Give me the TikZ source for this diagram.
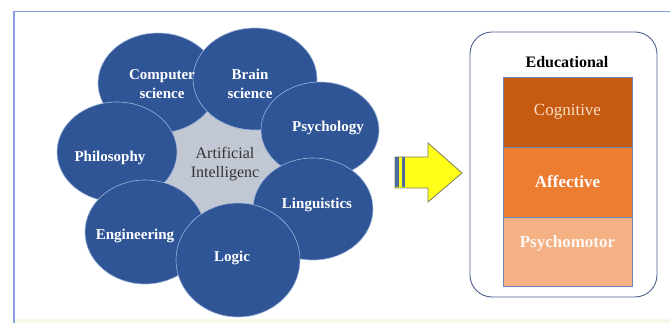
\documentclass[tikz,border=0pt]{standalone}
\usepackage{fontspec}
\setmainfont{Liberation Serif}
\usetikzlibrary{shapes.geometric}
\definecolor{blob}{HTML}{2F5597}
\definecolor{blobedge}{HTML}{9DB3DA}
\definecolor{aigray}{HTML}{C1C8D3}
\definecolor{framecol}{HTML}{8C9FE4}
\definecolor{boxedge}{HTML}{4E5F8F}
\definecolor{cogfill}{HTML}{C55A11}
\definecolor{cogtext}{HTML}{FBDDC2}
\definecolor{afffill}{HTML}{ED7D31}
\definecolor{psyfill}{HTML}{F4B183}
\definecolor{stackedge}{HTML}{6A86B8}
\definecolor{arrowfill}{HTML}{FFFF1A}
\definecolor{arrowedge}{HTML}{7D7D5A}
\definecolor{stripe}{HTML}{4F6C9E}
\definecolor{bottomtint}{HTML}{F4FAE6}
\tikzset{
  blobnode/.style={ellipse, fill=blob, draw=blobedge, line width=0.6pt, inner sep=0pt},
  bloblabel/.style={text=white, font=\fontsize{15}{19}\selectfont\bfseries, align=center, inner sep=0pt},
  stackbox/.style={rectangle, draw=stackedge, line width=0.8pt, minimum width=129pt, inner sep=0pt},
  stacklabel/.style={font=\fontsize{17}{20}\selectfont, inner sep=0pt}
}
\begin{document}
\begin{tikzpicture}[x=1pt,y=-1pt]
\useasboundingbox (0,0) rectangle (670,323);
\fill[white] (0,0) rectangle (670,323);
% outer frame
\fill[bottomtint] (14,319) rectangle (670,323);
\draw[framecol, line width=1.5pt] (14,323) -- (14,11.5) -- (670,11.5);
% central grey area with text
\node[circle, fill=aigray, minimum size=150pt, inner sep=0pt] (ai) at (228,165) {};
% ellipses
\node[blobnode, minimum width=120pt, minimum height=100pt] (comp) at (158,83) {};
\node[blobnode, minimum width=124pt, minimum height=102pt] (brain) at (255,79) {};
\node[blobnode, minimum width=118pt, minimum height=96pt] (psych) at (320,130) {};
\node[blobnode, minimum width=120pt, minimum height=102pt] (ling) at (313,209) {};
\node[blobnode, minimum width=120pt, minimum height=100pt] (phil) at (117,152) {};
\node[blobnode, minimum width=120pt, minimum height=104pt] (eng) at (145,232) {};
\node[blobnode, minimum width=124pt, minimum height=114pt] (logic) at (238,260) {};
% labels
\node[text=black!80, font=\fontsize{16}{19}\selectfont, align=center, inner sep=0pt] (aitext) at ([shift={(-3,-1)}]ai.center) {Artificial\\Intelligenc};
\node[bloblabel] (tcomp) at ([shift={(4,1)}]comp.center) {Computer\\science};
\node[bloblabel] (tbrain) at ([shift={(-5,5)}]brain.center) {Brain\\science};
\node[bloblabel] (tpsych) at ([shift={(8,-2)}]psych.center) {Psychology};
\node[bloblabel] (tphil) at ([shift={(-7,6)}]phil.center) {Philosophy};
\node[bloblabel] (tling) at ([shift={(4,-4)}]ling.center) {Linguistics};
\node[bloblabel] (teng) at ([shift={(-10,4)}]eng.center) {Engineering};
\node[bloblabel] (tlogic) at ([shift={(-6,-2)}]logic.center) {Logic};
% arrow
\draw[fill=arrowfill, draw=arrowedge, line width=0.8pt, line join=miter]
  (395,157) -- (428,157) -- (428,143) -- (462,173) -- (428,202) -- (428,188) -- (395,188) -- cycle;
\fill[stripe] (395,157.5) rectangle (399,187.5);
\fill[stripe] (401.5,157.5) rectangle (404.5,187.5);
% right panel
\draw[boxedge, line width=0.9pt, fill=white, rounded corners=22pt] (470,32) rectangle (657,297);
\node[font=\fontsize{16}{19}\selectfont\bfseries, inner sep=0pt] (edu) at (567,62) {Educational};
\node[stackbox, fill=cogfill, minimum height=70pt] (cog) at (567.5,112) {};
\node[stackbox, fill=afffill, minimum height=70pt] (aff) at (567.5,182) {};
\node[stackbox, fill=psyfill, minimum height=69pt] (psy) at (567.5,251.5) {};
\node[stacklabel, text=cogtext] (tcog) at (cog.center) {Cognitive};
\node[stacklabel, text=white, font=\fontsize{17}{20}\selectfont\bfseries] (taff) at (aff.center) {Affective};
\node[stacklabel, text=white!90!psyfill, font=\fontsize{17}{20}\selectfont\bfseries] (tpsy) at ([yshift=8pt]psy.center) {Psychomotor};
\end{tikzpicture}
\end{document}
